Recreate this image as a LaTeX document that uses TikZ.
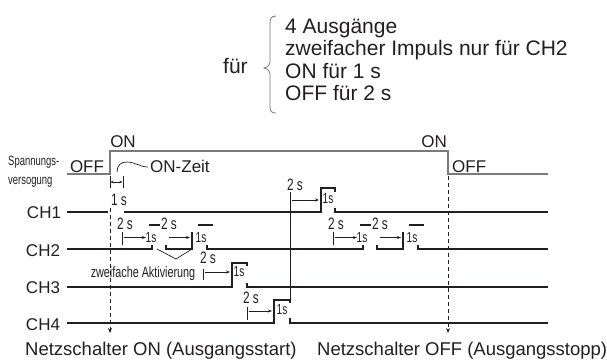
\documentclass[tikz,border=0pt]{standalone}
\usepackage{fontspec}
\setmainfont{Liberation Sans}
\newfontfamily\condA[FakeStretch=0.72]{Liberation Sans}
\newfontfamily\condB[FakeStretch=0.70]{Liberation Sans}
\newfontfamily\condC[FakeStretch=0.72]{Liberation Sans}
\usetikzlibrary{arrows.meta}
\definecolor{ink}{HTML}{231F20}
\definecolor{pgray}{HTML}{7A7A7A}
\begin{document}
\begin{tikzpicture}[x=1pt,y=-1pt,
  txt/.style={inner sep=0pt, text=ink},
  big/.style={txt, font=\fontsize{21}{23}\selectfont, anchor=base west},
  mid/.style={txt, font=\fontsize{17}{20}\selectfont, anchor=base},
  low/.style={txt, font=\fontsize{18.5}{22}\selectfont, anchor=base west},
  sml/.style={txt, font=\condA\fontsize{16.5}{18}\selectfont, anchor=base},
  tny/.style={txt, font=\condB\fontsize{14.5}{16}\selectfont, anchor=base},
  vsg/.style={txt, font=\condB\fontsize{13.5}{15}\selectfont, anchor=base west},
  zwf/.style={txt, font=\condC\fontsize{15}{16}\selectfont, anchor=base},
  sig/.style={draw=ink, line width=1.1pt},
  pwr/.style={draw=pgray, line width=1.4pt},
  thn/.style={draw=ink, line width=0.7pt},
  meas/.style={thn, -{Stealth[length=4pt,width=3pt]}},
  dmeas/.style={thn, {Stealth[length=3pt,width=2.5pt]}-{Stealth[length=3pt,width=2.5pt]}},
  guide/.style={draw=ink, line width=0.8pt, dash pattern=on 4pt off 3pt, -{Stealth[length=5pt,width=4pt]}},
]
\fill[white] (0,0) rectangle (607,360);
\useasboundingbox (0,0) rectangle (607,360);

% ---- top list
\node[big] (fuer) at (223,73) {für};
\draw[draw=pgray, line width=0.8pt] (276,16) .. controls (271,16) and (270,19) .. (270,24) -- (270,61)
  .. controls (270,65) and (268,67) .. (264,68) .. controls (268,69) and (270,71) .. (270,75)
  -- (270,106) .. controls (270,111) and (271,113) .. (276,113);
\node[big] (l1) at (285,33) {4 Ausgänge};
\node[big] (l2) at (285,55.5) {zweifacher Impuls nur für CH2};
\node[big] (l3) at (285,78) {ON für 1 s};
\node[big] (l4) at (285,100.5) {OFF für 2 s};

% ---- power supply
\draw[pwr] (67,174) -- (110,174) -- (110,151) -- (448,151) -- (448,174) -- (548,174);
\node[mid] (on1) at (123,147) {ON};
\node[mid, anchor=base east] (on2) at (447,147) {ON};
\node[mid] (off1) at (87,172) {OFF};
\node[mid, anchor=base west] (off2) at (452,172) {OFF};
\node[mid, anchor=base west] (onzeit) at (150,172) {ON-Zeit};
\draw[thn] (117,172) .. controls (117,165) and (121,162) .. (127,162) .. controls (135,162) and (140,167) .. (148,167);
\node[vsg] (sp1) at (8,165) {Spannungs-};
\node[vsg] (sp2) at (8,184) {versogung};

% ON time 1 s
\draw[thn] (110,176) -- (110,188) (123,176) -- (123,188);
\draw[dmeas] (110.5,182) -- (122.5,182);
\node[sml] (ont) at (119,205) {1 s};

% guides
\coordinate (g1t) at (110,208);
\coordinate (g1b) at (110,333);
\coordinate (g2t) at (448,176);
\coordinate (g2b) at (448,333);
\draw[guide] (g1t) -- (g1b);
\draw[guide] (g2t) -- (g2b);

% ---- channel labels
\node[mid] (ch1) at (44,218) {CH1};
\node[mid] (ch2) at (43,256) {CH2};
\node[mid] (ch3) at (43,293) {CH3};
\node[mid] (ch4) at (43,330) {CH4};

% ---- CH1
\draw[sig] (67,212) -- (108,212);
\draw[sig] (124,212) -- (321,212) -- (321,188) -- (335,188) -- (335,192);
\draw[sig] (335,208) -- (335,212) -- (548,212);
\draw[thn] (290,192) -- (290,300);
\node[sml] (c1a) at (295,190) {2 s};
\draw[meas] (292,200) -- (319,200);
\node[tny] (c1b) at (328,203) {1s};

% ---- CH2
\def\xa{122}
\def\xb{333}
\draw[sig] (67,249) -- (\xa+30,249) -- (\xa+30,245);
\draw[sig] (\xa+44,245) -- (\xa+44,249) -- (\xa+70,249) -- (\xa+70,232);
\draw[sig] (\xa+85,245) -- (\xa+85,249) -- (\xb+30,249) -- (\xb+30,245);
\draw[sig] (\xb+44,245) -- (\xb+44,249) -- (\xb+70,249) -- (\xb+70,232);
\draw[sig] (\xb+85,245) -- (\xb+85,249) -- (548,249);
\foreach \x/\n in {\xa/a,\xb/b}{
  \draw[thn] (\x,232) -- (\x,245);
  \node[sml] (c2s\n) at (\x+3,229) {2 s};
  \draw[meas] (\x+2,237.5) -- (\x+24,237.5);
  \node[tny] (c2p\n) at (\x+29,242) {1s};
  \draw[sig] (\x+27,225) -- (\x+38,225);
  \node[sml] (c2t\n) at (\x+47,229) {2 s};
  \draw[meas] (\x+47,237.5) -- (\x+68,237.5);
  \node[tny] (c2q\n) at (\x+79,242) {1s};
  \draw[sig] (\x+76,225) -- (\x+91,225);
}
\draw[thn] (157,249) -- (176,259) -- (192,249);
\node[zwf] (zw) at (143,277) {zweifache Aktivierung};

% ---- CH3
\draw[sig] (67,287) -- (232,287) -- (232,263) -- (247,263) -- (247,266);
\draw[sig] (247,283) -- (247,287) -- (548,287);
\draw[thn] (203,269) -- (203,280);
\draw[meas] (205,272) -- (230,272);
\node[sml] (c3a) at (208,263) {2 s};
\node[tny] (c3b) at (239,276) {1s};

% ---- CH4
\draw[sig] (67,323) -- (274,323) -- (274,300) -- (290,300) -- (290,303);
\draw[sig] (290,318) -- (290,323) -- (548,323);
\draw[thn] (247,307) -- (247,320);
\draw[meas] (249,311) -- (272,311);
\node[sml] (c4a) at (251,303) {2 s};
\node[tny] (c4b) at (282,314) {1s};

% ---- bottom
\node[low] (ns1) at (25,355) {Netzschalter ON (Ausgangsstart)};
\node[low] (ns2) at (317,355) {Netzschalter OFF (Ausgangsstopp)};
\end{tikzpicture}
\end{document}
